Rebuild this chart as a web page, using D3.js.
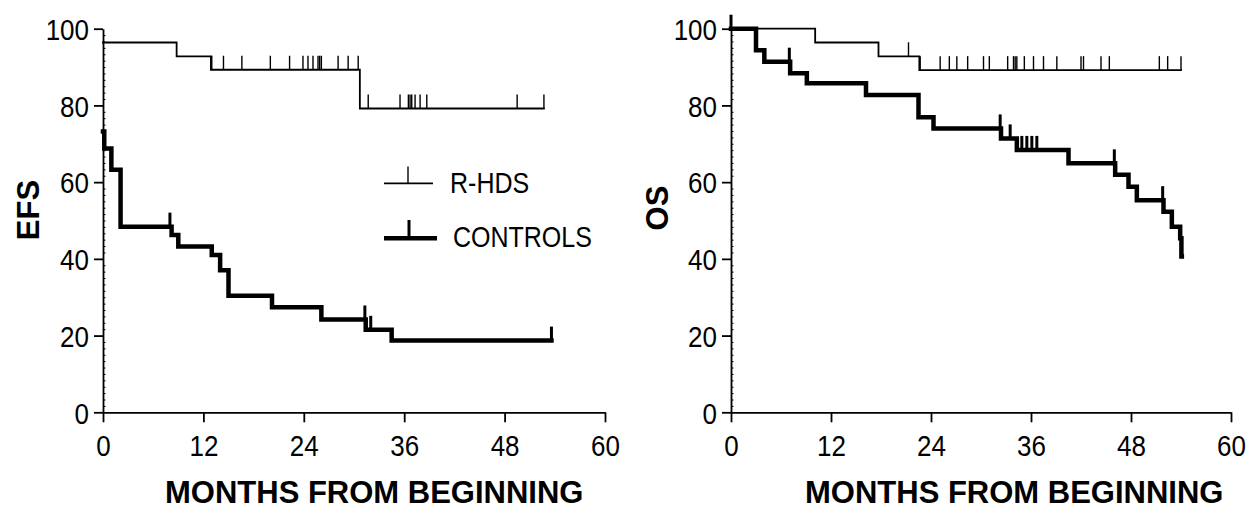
<!DOCTYPE html>
<html><head><meta charset="utf-8">
<script src="https://cdn.jsdelivr.net/npm/d3@7"></script>
<style>body{margin:0;background:#fff}</style>
</head><body><svg id="c" width="1259" height="510"></svg>
<script>
// ---------- data ----------
const xTicks = [0, 12, 24, 36, 48, 60];
const yTicks = [0, 20, 40, 60, 80, 100];
const xTitle = "MONTHS FROM BEGINNING";
const seriesNames = ["R-HDS", "CONTROLS"];

// EFS panel
const efsRhdsSteps = [[0, 96.4], [8.8, 92.8], [12.9, 89.3], [30.7, 79.2]];
const efsRhdsEnd = 52.7;
const efsRhdsCensor = [13.0, 14.4, 16.6, 20.0, 22.3, 23.9, 24.5, 25.1, 25.7, 25.9, 26.1, 28.1, 29.3, 30.5,
                       31.7, 35.5, 36.5, 36.7, 36.9, 37.3, 37.9, 38.7, 49.5, 52.7];
const efsCtrlSteps = [[0, 73.2], [0.15, 68.8], [1.0, 63.2], [2.1, 48.4], [8.2, 46.2], [9.0, 43.2], [13.0, 41.0],
                      [14.0, 37.0], [15.0, 30.4], [20.2, 27.4], [26.1, 24.2], [31.4, 21.5], [34.5, 18.7]];
const efsCtrlEnd = 53.6;
const efsCtrlCensor = [8.0, 31.3, 32.0, 53.6];

// OS panel
const osRhdsSteps = [[0, 100], [10.1, 96.4], [17.7, 92.8], [22.6, 89.2]];
const osRhdsEnd = 54.0;
const osRhdsCensor = [21.3, 22.7, 25.1, 26.2, 27.1, 28.4, 30.3, 31.0, 33.2, 33.9, 34.1, 34.3, 35.2, 36.3, 37.5,
                      39.1, 42.0, 42.3, 44.4, 45.4, 51.4, 52.4, 54.0];
const osCtrlSteps = [[0, 100], [3.0, 94.4], [4.0, 91.4], [7.1, 88.4], [9.1, 85.8], [16.2, 82.7], [22.5, 76.9],
                     [24.3, 74.0], [32.4, 71.4], [34.3, 68.4], [40.5, 64.9], [46.1, 61.9], [47.7, 58.8],
                     [48.7, 55.3], [51.9, 52.3], [52.9, 48.4], [53.9, 45.4], [54.05, 40.6]];
const osCtrlEnd = 54.1;
const osCtrlCensor = [0, 7.0, 32.3, 33.5, 34.9, 35.5, 36.1, 36.7, 46.0, 51.8];

// ---------- drawing ----------
const svg = d3.select("#c");
const font = "'Liberation Sans', Arial, sans-serif";
const SY = 1.15; // vertical stretch of the original's lettering

function survAt(steps, t) {
  let v = steps[0][1];
  for (const s of steps) if (s[0] <= t) v = s[1];
  return v;
}

function panel(cfg) {
  const g = svg.append("g");
  const x = d3.scaleLinear().domain([0, 60]).range(cfg.xr);
  const y = d3.scaleLinear().domain([0, 100]).range([412.3, 28.7]);

  // x axis
  const xa = g.append("g").attr("transform", `translate(0,${y(0)})`)
    .call(d3.axisBottom(x).tickValues(xTicks).tickSize(10).tickSizeOuter(0).tickFormat(d3.format("d")));
  xa.selectAll("text").attr("y", 0).attr("dy", null)
    .attr("transform", `translate(0,43.7) scale(1,${SY})`);

  // y axis
  const ya = g.append("g").attr("transform", `translate(${x(0)},0)`)
    .call(d3.axisLeft(y).tickValues(yTicks).tickSize(9).tickPadding(5).tickSizeOuter(0));
  ya.selectAll("text").attr("dy", null).attr("y", 0)
    .attr("transform", `translate(0,10.7) scale(1,${SY})`);
  // minor ticks
  const minor = d3.range(0, 100, 20 / 12).filter(v => Math.abs(v % 20) > 0.01 && Math.abs(v % 20 - 20) > 0.01);
  g.append("g").attr("transform", `translate(${x(0)},0)`)
    .call(d3.axisRight(y).tickValues(minor).tickSize(2.5).tickFormat("").tickSizeOuter(0))
    .call(s => s.select(".domain").remove())
    .selectAll("line").attr("stroke-width", 1);

  [xa, ya].forEach(a => {
    a.selectAll("text").attr("font-family", font).attr("font-size", 26).attr("fill", "#000");
    a.selectAll("line,path").attr("stroke", "#000").attr("stroke-width", 1.8);
  });

  const line = d3.line().x(d => x(d[0])).y(d => y(d[1])).curve(d3.curveStepAfter);

  function curve(steps, end, censor, w, tw, th) {
    const pts = steps.concat([[end, steps[steps.length - 1][1]]]);
    g.append("path").attr("d", line(pts)).attr("fill", "none").attr("stroke", "#000")
      .attr("stroke-width", w).attr("stroke-linejoin", "miter").attr("stroke-linecap", "square");
    g.append("g").selectAll("line").data(censor).join("line")
      .attr("x1", d => x(d)).attr("x2", d => x(d))
      .attr("y1", d => y(survAt(steps, d))).attr("y2", d => y(survAt(steps, d)) - th)
      .attr("stroke", "#000").attr("stroke-width", tw);
  }
  curve(cfg.rhds[0], cfg.rhds[1], cfg.rhds[2], 1.8, 1.4, 14);
  curve(cfg.ctrl[0], cfg.ctrl[1], cfg.ctrl[2], 4.5, 3, 14);

  // axis titles
  g.append("text").attr("x", cfg.titleX).attr("y", 503).attr("font-family", font)
    .attr("font-weight", "bold").attr("font-size", 31).text(xTitle);
  g.append("text").attr("transform", `translate(${cfg.yTitleX},${cfg.yTitleY}) rotate(-90)`)
    .attr("text-anchor", "middle").attr("font-family", font)
    .attr("font-weight", "bold").attr("font-size", 31).text(cfg.yTitle);
  return g;
}

panel({ xr: [103, 605], rhds: [efsRhdsSteps, efsRhdsEnd, efsRhdsCensor],
        ctrl: [efsCtrlSteps, efsCtrlEnd, efsCtrlCensor], titleX: 165, yTitle: "EFS", yTitleX: 39, yTitleY: 210 });
panel({ xr: [731, 1231], rhds: [osRhdsSteps, osRhdsEnd, osRhdsCensor],
        ctrl: [osCtrlSteps, osCtrlEnd, osCtrlCensor], titleX: 805, yTitle: "OS", yTitleX: 668, yTitleY: 208 });

// legend
const lg = svg.append("g");
lg.append("line").attr("x1", 384).attr("x2", 433).attr("y1", 183.3).attr("y2", 183.3)
  .attr("stroke", "#000").attr("stroke-width", 1.8);
lg.append("line").attr("x1", 408).attr("x2", 408).attr("y1", 183.3).attr("y2", 166.5)
  .attr("stroke", "#000").attr("stroke-width", 1.4);
lg.append("line").attr("x1", 384).attr("x2", 437).attr("y1", 238.3).attr("y2", 238.3)
  .attr("stroke", "#000").attr("stroke-width", 4.5);
lg.append("line").attr("x1", 409).attr("x2", 409).attr("y1", 238.3).attr("y2", 220)
  .attr("stroke", "#000").attr("stroke-width", 3);
lg.append("text").attr("transform", `translate(450,193.3) scale(1,${SY})`)
  .attr("font-family", font).attr("font-size", 25).text(seriesNames[0]);
lg.append("text").attr("transform", `translate(453,246.7) scale(1,${SY})`)
  .attr("font-family", font).attr("font-size", 25).text(seriesNames[1]);
</script></body></html>
